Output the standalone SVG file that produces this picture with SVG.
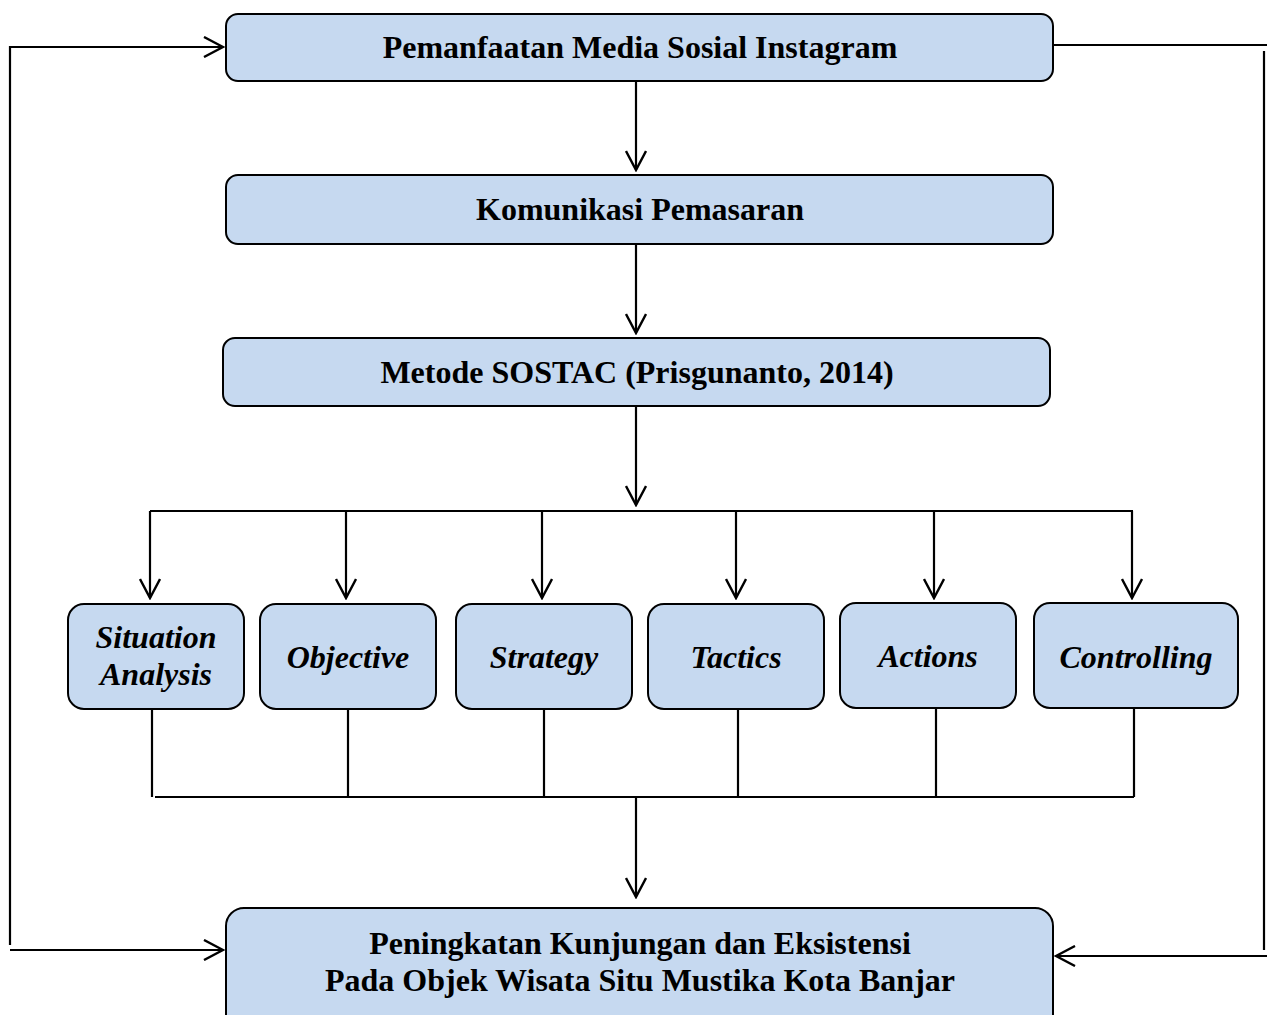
<svg xmlns="http://www.w3.org/2000/svg" width="1270" height="1015" viewBox="0 0 1270 1015">
<style>
.box{fill:#c6d9f0;stroke:#000;stroke-width:2}
.t{font-family:"Liberation Serif","Times New Roman",serif;font-weight:bold;font-size:32px;text-anchor:middle;fill:#000}
.i{font-style:italic}
.c{fill:none;stroke:#000;stroke-width:2.2}
</style>
<defs>
<marker id="ah" viewBox="0 0 22 22" refX="20" refY="11" markerWidth="22" markerHeight="22" markerUnits="userSpaceOnUse" orient="auto">
<path d="M1,1 L20,11 L1,21" fill="none" stroke="#000" stroke-width="2.4"/>
</marker>
</defs>
<rect width="1270" height="1015" fill="#fff"/>
<g id="connectors">
<path class="c" d="M636,81 V170" marker-end="url(#ah)"/>
<path class="c" d="M636,244 V333" marker-end="url(#ah)"/>
<path class="c" d="M636,406 V505" marker-end="url(#ah)"/>
<path class="c" d="M150,511 H1133"/>
<path class="c" d="M150,511 V598" marker-end="url(#ah)"/>
<path class="c" d="M346,511 V598" marker-end="url(#ah)"/>
<path class="c" d="M542,511 V598" marker-end="url(#ah)"/>
<path class="c" d="M736,511 V598" marker-end="url(#ah)"/>
<path class="c" d="M934,511 V598" marker-end="url(#ah)"/>
<path class="c" d="M1132,511 V598" marker-end="url(#ah)"/>
<path class="c" d="M152,709 V797"/>
<path class="c" d="M348,709 V797"/>
<path class="c" d="M544,709 V797"/>
<path class="c" d="M738,709 V797"/>
<path class="c" d="M936,708 V797"/>
<path class="c" d="M1134,708 V797"/>
<path class="c" d="M155,797 H1134"/>
<path class="c" d="M636,797 V897" marker-end="url(#ah)"/>
<path class="c" d="M10,945 V47 H223" marker-end="url(#ah)"/>
<path class="c" d="M10,950 H223" marker-end="url(#ah)"/>
<path class="c" d="M1053,45 H1267"/>
<path class="c" d="M1264,51 V950"/>
<path class="c" d="M1267,956 H1056" marker-end="url(#ah)"/>
</g>
<g id="n1"><rect class="box" x="226" y="14" width="827" height="67" rx="12"/><text class="t" x="640" y="58">Pemanfaatan Media Sosial Instagram</text></g>
<g id="n2"><rect class="box" x="226" y="175" width="827" height="69" rx="12"/><text class="t" x="640" y="220">Komunikasi Pemasaran</text></g>
<g id="n3"><rect class="box" x="223" y="338" width="827" height="68" rx="12"/><text class="t" x="637" y="383">Metode SOSTAC (Prisgunanto, 2014)</text></g>
<g id="n4"><rect class="box" x="68" y="604" width="176" height="105" rx="16"/><text class="t i" x="156" y="648">Situation</text><text class="t i" x="156" y="685">Analysis</text></g>
<g id="n5"><rect class="box" x="260" y="604" width="176" height="105" rx="16"/><text class="t i" x="348" y="668">Objective</text></g>
<g id="n6"><rect class="box" x="456" y="604" width="176" height="105" rx="16"/><text class="t i" x="544" y="668">Strategy</text></g>
<g id="n7"><rect class="box" x="648" y="604" width="176" height="105" rx="16"/><text class="t i" x="736" y="668">Tactics</text></g>
<g id="n8"><rect class="box" x="840" y="603" width="176" height="105" rx="16"/><text class="t i" x="928" y="667">Actions</text></g>
<g id="n9"><rect class="box" x="1034" y="603" width="204" height="105" rx="16"/><text class="t i" x="1136" y="668">Controlling</text></g>
<g id="n10"><rect class="box" x="226" y="908" width="827" height="130" rx="18"/><text class="t" x="640" y="954">Peningkatan Kunjungan dan Eksistensi</text><text class="t" x="640" y="991">Pada Objek Wisata Situ Mustika Kota Banjar</text></g>
</svg>
